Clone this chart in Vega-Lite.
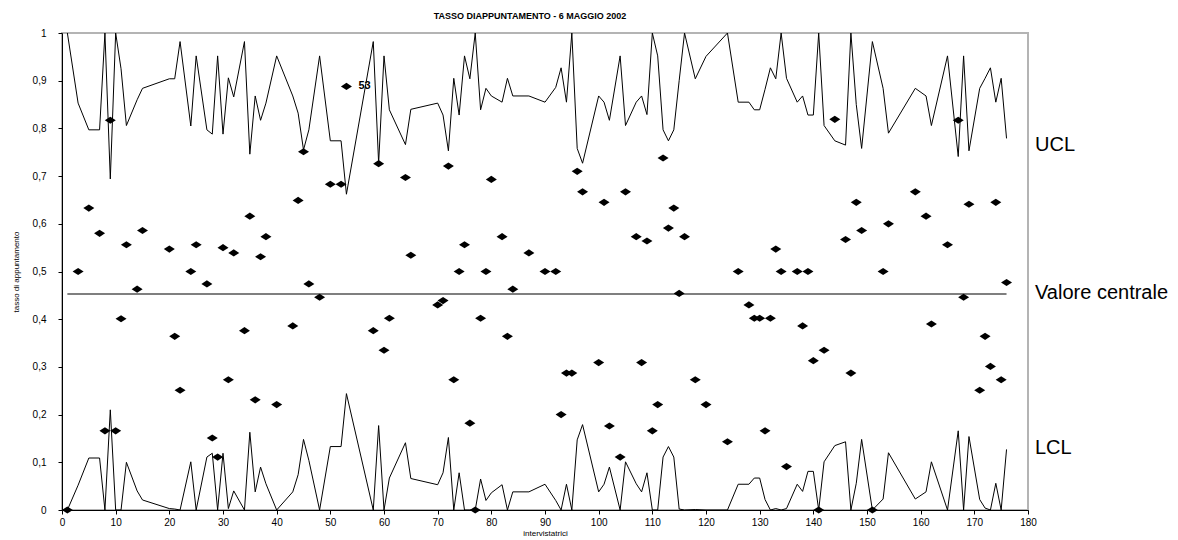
{
  "$schema": "https://vega.github.io/schema/vega-lite/v6.json",
  "width": 966,
  "height": 477,
  "autosize": "none",
  "padding": {"left": 62, "top": 33, "right": 150, "bottom": 30},
  "background": "white",
  "config": {
    "font": "Liberation Sans",
    "view": {"stroke": "#b4b4b4", "strokeWidth": 2},
    "axis": {"grid": false, "domainColor": "black", "tickColor": "black", "labelColor": "black", "titleColor": "black", "titleFontWeight": "normal", "tickSize": 4}
  },
  "title": {"text": "TASSO DIAPPUNTAMENTO - 6 MAGGIO 2002", "fontSize": 9, "fontWeight": "bold", "anchor": "middle", "offset": 7, "dx": -15, "color": "black"},
  "datasets": {
    "pts": [
      {"x": 1, "p": 0, "ucl": 1.0, "lcl": 0},
      {"x": 3, "p": 0.5, "ucl": 0.853, "lcl": 0.052},
      {"x": 5, "p": 0.633, "ucl": 0.797, "lcl": 0.109},
      {"x": 7, "p": 0.58, "ucl": 0.797, "lcl": 0.109},
      {"x": 8, "p": 0.166, "ucl": 1.0, "lcl": 0},
      {"x": 9, "p": 0.817, "ucl": 0.694, "lcl": 0.21},
      {"x": 10, "p": 0.166, "ucl": 1.0, "lcl": 0},
      {"x": 11, "p": 0.401, "ucl": 0.925, "lcl": 0},
      {"x": 12, "p": 0.556, "ucl": 0.806, "lcl": 0.1},
      {"x": 14, "p": 0.463, "ucl": 0.86, "lcl": 0.04},
      {"x": 15, "p": 0.586, "ucl": 0.884, "lcl": 0.021},
      {"x": 20, "p": 0.547, "ucl": 0.904, "lcl": 0.003},
      {"x": 21, "p": 0.364, "ucl": 0.904, "lcl": 0.002},
      {"x": 22, "p": 0.251, "ucl": 0.982, "lcl": 0},
      {"x": 24, "p": 0.5, "ucl": 0.805, "lcl": 0.101},
      {"x": 25, "p": 0.556, "ucl": 0.952, "lcl": 0},
      {"x": 27, "p": 0.474, "ucl": 0.797, "lcl": 0.111},
      {"x": 28, "p": 0.151, "ucl": 0.788, "lcl": 0.119},
      {"x": 29, "p": 0.111, "ucl": 0.952, "lcl": 0},
      {"x": 30, "p": 0.55, "ucl": 0.788, "lcl": 0.119},
      {"x": 31, "p": 0.273, "ucl": 0.906, "lcl": 0.003},
      {"x": 32, "p": 0.539, "ucl": 0.866, "lcl": 0.04},
      {"x": 34, "p": 0.376, "ucl": 0.982, "lcl": 0},
      {"x": 35, "p": 0.616, "ucl": 0.746, "lcl": 0.163},
      {"x": 36, "p": 0.231, "ucl": 0.868, "lcl": 0.038},
      {"x": 37, "p": 0.531, "ucl": 0.817, "lcl": 0.09},
      {"x": 38, "p": 0.573, "ucl": 0.853, "lcl": 0.055},
      {"x": 40, "p": 0.221, "ucl": 0.952, "lcl": 0},
      {"x": 43, "p": 0.386, "ucl": 0.868, "lcl": 0.038},
      {"x": 44, "p": 0.649, "ucl": 0.832, "lcl": 0.074},
      {"x": 45, "p": 0.751, "ucl": 0.755, "lcl": 0.148},
      {"x": 46, "p": 0.474, "ucl": 0.797, "lcl": 0.104},
      {"x": 48, "p": 0.446, "ucl": 0.952, "lcl": 0},
      {"x": 50, "p": 0.683, "ucl": 0.774, "lcl": 0.133},
      {"x": 52, "p": 0.683, "ucl": 0.774, "lcl": 0.133},
      {"x": 53, "p": 0.888, "ucl": 0.662, "lcl": 0.244},
      {"x": 58, "p": 0.376, "ucl": 0.982, "lcl": 0},
      {"x": 59, "p": 0.726, "ucl": 0.727, "lcl": 0.177},
      {"x": 60, "p": 0.335, "ucl": 0.952, "lcl": 0},
      {"x": 61, "p": 0.402, "ucl": 0.839, "lcl": 0.067},
      {"x": 64, "p": 0.697, "ucl": 0.766, "lcl": 0.141},
      {"x": 65, "p": 0.534, "ucl": 0.84, "lcl": 0.066},
      {"x": 70, "p": 0.43, "ucl": 0.853, "lcl": 0.053},
      {"x": 71, "p": 0.439, "ucl": 0.828, "lcl": 0.078},
      {"x": 72, "p": 0.721, "ucl": 0.753, "lcl": 0.152},
      {"x": 73, "p": 0.273, "ucl": 0.905, "lcl": 0},
      {"x": 74, "p": 0.5, "ucl": 0.828, "lcl": 0.078},
      {"x": 75, "p": 0.556, "ucl": 0.952, "lcl": 0},
      {"x": 76, "p": 0.182, "ucl": 0.904, "lcl": 0},
      {"x": 77, "p": 0, "ucl": 1.0, "lcl": 0},
      {"x": 78, "p": 0.402, "ucl": 0.839, "lcl": 0.065},
      {"x": 79, "p": 0.5, "ucl": 0.884, "lcl": 0.02},
      {"x": 80, "p": 0.693, "ucl": 0.868, "lcl": 0.036},
      {"x": 82, "p": 0.573, "ucl": 0.855, "lcl": 0.053},
      {"x": 83, "p": 0.364, "ucl": 0.905, "lcl": 0},
      {"x": 84, "p": 0.463, "ucl": 0.868, "lcl": 0.038},
      {"x": 87, "p": 0.539, "ucl": 0.868, "lcl": 0.038},
      {"x": 90, "p": 0.5, "ucl": 0.855, "lcl": 0.054},
      {"x": 92, "p": 0.5, "ucl": 0.886, "lcl": 0.02},
      {"x": 93, "p": 0.2, "ucl": 0.927, "lcl": 0},
      {"x": 94, "p": 0.287, "ucl": 0.855, "lcl": 0.054},
      {"x": 95, "p": 0.287, "ucl": 1.0, "lcl": 0},
      {"x": 96, "p": 0.71, "ucl": 0.758, "lcl": 0.147},
      {"x": 97, "p": 0.667, "ucl": 0.727, "lcl": 0.179},
      {"x": 100, "p": 0.309, "ucl": 0.868, "lcl": 0.038},
      {"x": 101, "p": 0.645, "ucl": 0.855, "lcl": 0.054},
      {"x": 102, "p": 0.176, "ucl": 0.817, "lcl": 0.09},
      {"x": 104, "p": 0.111, "ucl": 0.952, "lcl": 0},
      {"x": 105, "p": 0.667, "ucl": 0.806, "lcl": 0.101},
      {"x": 107, "p": 0.573, "ucl": 0.855, "lcl": 0.055},
      {"x": 108, "p": 0.309, "ucl": 0.868, "lcl": 0.038},
      {"x": 109, "p": 0.564, "ucl": 0.829, "lcl": 0.078},
      {"x": 110, "p": 0.166, "ucl": 1.0, "lcl": 0},
      {"x": 111, "p": 0.221, "ucl": 0.952, "lcl": 0},
      {"x": 112, "p": 0.738, "ucl": 0.797, "lcl": 0.111},
      {"x": 113, "p": 0.591, "ucl": 0.774, "lcl": 0.133},
      {"x": 114, "p": 0.633, "ucl": 0.797, "lcl": 0.111},
      {"x": 115, "p": 0.454, "ucl": 0.9, "lcl": 0.002},
      {"x": 116, "p": 0.573, "ucl": 1.0, "lcl": 0},
      {"x": 118, "p": 0.273, "ucl": 0.904, "lcl": 0.001},
      {"x": 120, "p": 0.221, "ucl": 0.951, "lcl": 0},
      {"x": 124, "p": 0.143, "ucl": 1.0, "lcl": 0},
      {"x": 126, "p": 0.5, "ucl": 0.855, "lcl": 0.054},
      {"x": 128, "p": 0.43, "ucl": 0.855, "lcl": 0.054},
      {"x": 129, "p": 0.402, "ucl": 0.839, "lcl": 0.067},
      {"x": 130, "p": 0.402, "ucl": 0.839, "lcl": 0.067},
      {"x": 131, "p": 0.166, "ucl": 0.882, "lcl": 0.022},
      {"x": 132, "p": 0.402, "ucl": 0.927, "lcl": 0},
      {"x": 133, "p": 0.547, "ucl": 0.904, "lcl": 0.003},
      {"x": 134, "p": 0.5, "ucl": 1.0, "lcl": 0},
      {"x": 135, "p": 0.091, "ucl": 0.905, "lcl": 0.003},
      {"x": 137, "p": 0.5, "ucl": 0.855, "lcl": 0.054},
      {"x": 138, "p": 0.386, "ucl": 0.868, "lcl": 0.039},
      {"x": 139, "p": 0.5, "ucl": 0.828, "lcl": 0.081},
      {"x": 140, "p": 0.313, "ucl": 0.828, "lcl": 0.081},
      {"x": 141, "p": 0, "ucl": 1.0, "lcl": 0},
      {"x": 142, "p": 0.335, "ucl": 0.806, "lcl": 0.101},
      {"x": 144, "p": 0.819, "ucl": 0.774, "lcl": 0.135},
      {"x": 146, "p": 0.567, "ucl": 0.765, "lcl": 0.143},
      {"x": 147, "p": 0.287, "ucl": 1.0, "lcl": 0},
      {"x": 148, "p": 0.645, "ucl": 0.85, "lcl": 0.056},
      {"x": 149, "p": 0.586, "ucl": 0.758, "lcl": 0.148},
      {"x": 151, "p": 0, "ucl": 0.982, "lcl": 0},
      {"x": 153, "p": 0.5, "ucl": 0.884, "lcl": 0.023},
      {"x": 154, "p": 0.6, "ucl": 0.79, "lcl": 0.12},
      {"x": 159, "p": 0.667, "ucl": 0.884, "lcl": 0.023},
      {"x": 161, "p": 0.616, "ucl": 0.868, "lcl": 0.038},
      {"x": 162, "p": 0.39, "ucl": 0.806, "lcl": 0.101},
      {"x": 165, "p": 0.556, "ucl": 0.952, "lcl": 0},
      {"x": 167, "p": 0.817, "ucl": 0.741, "lcl": 0.166},
      {"x": 168, "p": 0.446, "ucl": 0.952, "lcl": 0},
      {"x": 169, "p": 0.641, "ucl": 0.753, "lcl": 0.154},
      {"x": 171, "p": 0.251, "ucl": 0.884, "lcl": 0.022},
      {"x": 172, "p": 0.364, "ucl": 0.905, "lcl": 0.004},
      {"x": 173, "p": 0.301, "ucl": 0.927, "lcl": 0},
      {"x": 174, "p": 0.645, "ucl": 0.855, "lcl": 0.056},
      {"x": 175, "p": 0.273, "ucl": 0.905, "lcl": 0},
      {"x": 176, "p": 0.477, "ucl": 0.779, "lcl": 0.127}
    ],
    "center": [
      {"x": 1, "y": 0.453},
      {"x": 176, "y": 0.453}
    ],
    "pointLabel": [
      {"x": 53, "y": 0.888, "label": "53"}
    ],
    "sideLabels": [
      {"x": 180, "y": 0.765, "label": "UCL"},
      {"x": 180, "y": 0.455, "label": "Valore centrale"},
      {"x": 180, "y": 0.13, "label": "LCL"}
    ]
  },
  "layer": [
    {
      "data": {"name": "pts"},
      "mark": {"type": "line", "color": "black", "strokeWidth": 1},
      "encoding": {
        "x": {
          "field": "x", "type": "quantitative",
          "scale": {"domain": [0, 180], "nice": false, "zero": false},
          "axis": {
            "title": "intervistatrici", "titleFontSize": 8, "titlePadding": 2,
            "values": [0, 10, 20, 30, 40, 50, 60, 70, 80, 90, 100, 110, 120, 130, 140, 150, 160, 170, 180],
            "labelFontSize": 10, "labelPadding": 3, "labelFlush": false
          }
        },
        "y": {
          "field": "ucl", "type": "quantitative",
          "scale": {"domain": [0, 1], "nice": false},
          "axis": {
            "title": "tasso di appuntamento", "titleFontSize": 8, "titlePadding": 12,
            "values": [0, 0.1, 0.2, 0.3, 0.4, 0.5, 0.6, 0.7, 0.8, 0.9, 1],
            "labelExpr": "replace(format(datum.value, '~g'), '.', ',')",
            "labelFontSize": 10, "labelPadding": 12
          }
        }
      }
    },
    {
      "data": {"name": "pts"},
      "mark": {"type": "line", "color": "black", "strokeWidth": 1},
      "encoding": {
        "x": {"field": "x", "type": "quantitative"},
        "y": {"field": "lcl", "type": "quantitative"}
      }
    },
    {
      "data": {"name": "center"},
      "mark": {"type": "line", "color": "#555555", "strokeWidth": 1.5},
      "encoding": {
        "x": {"field": "x", "type": "quantitative"},
        "y": {"field": "y", "type": "quantitative"}
      }
    },
    {
      "data": {"name": "pts"},
      "mark": {"type": "point", "filled": true, "color": "black", "opacity": 1, "size": 121, "shape": "M-1,0L0,-0.65L1,0L0,0.65Z"},
      "encoding": {
        "x": {"field": "x", "type": "quantitative"},
        "y": {"field": "p", "type": "quantitative"}
      }
    },
    {
      "data": {"name": "pointLabel"},
      "mark": {"type": "text", "align": "left", "baseline": "middle", "dx": 12, "fontSize": 11, "fontWeight": "bold", "color": "black"},
      "encoding": {
        "x": {"field": "x", "type": "quantitative"},
        "y": {"field": "y", "type": "quantitative"},
        "text": {"field": "label"}
      }
    },
    {
      "data": {"name": "sideLabels"},
      "mark": {"type": "text", "align": "left", "baseline": "middle", "dx": 7, "fontSize": 20, "color": "black"},
      "encoding": {
        "x": {"field": "x", "type": "quantitative"},
        "y": {"field": "y", "type": "quantitative"},
        "text": {"field": "label"}
      }
    }
  ]
}
